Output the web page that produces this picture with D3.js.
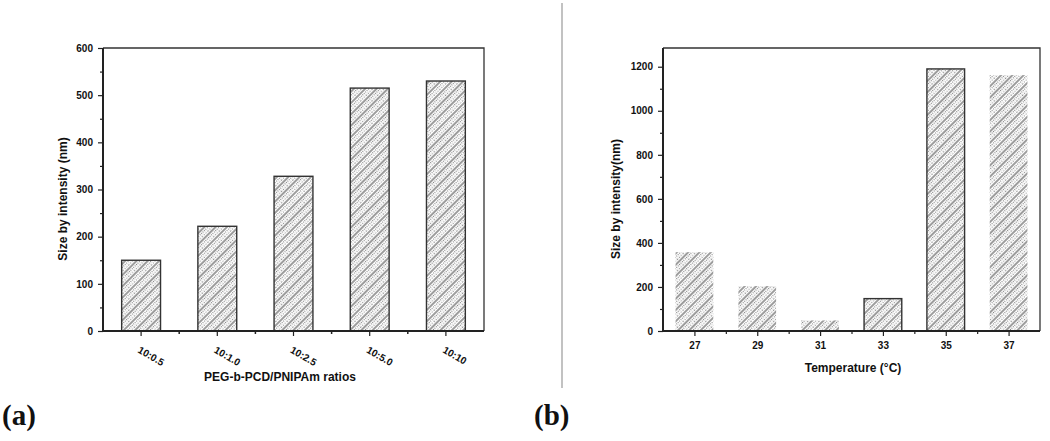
<!DOCTYPE html>
<html>
<head>
<meta charset="utf-8">
<script src="https://cdn.jsdelivr.net/npm/d3@7"></script>
<style>
  body { margin: 0; background: #fff; }
  svg { display: block; }
  .tick text { font-family: "Liberation Sans", Arial, sans-serif; font-weight: bold; font-size: 10px; fill: #111; }
  .title { font-family: "Liberation Sans", Arial, sans-serif; font-weight: bold; font-size: 12px; fill: #111; }
  .panel { font-family: "Liberation Serif", "Times New Roman", serif; font-weight: bold; font-size: 29px; fill: #111; }
</style>
</head>
<body>
<div id="chart"></div>
<script>
// panel (a): size vs. ratio
var ratioLabels = ["10:0.5", "10:1.0", "10:2.5", "10:5.0", "10:10"];
var ratioSizes = [150, 222, 328, 515, 530];
var ratioYTicks = [0, 100, 200, 300, 400, 500, 600];

// panel (b): size vs. temperature
var temps = [27, 29, 31, 33, 35, 37];
var tempSizes = [358, 204, 48, 147, 1190, 1162];
var tempYTicks = [0, 200, 400, 600, 800, 1000, 1200];

const WIDTH = 1050;
const HEIGHT = 441;

var svg = d3.select("#chart").append("svg")
    .attr("width", WIDTH)
    .attr("height", HEIGHT);

// hatch fill, solid + dotted diagonal lines
var defs = svg.append("defs");
var pat = defs.append("pattern")
    .attr("id", "hatch")
    .attr("patternUnits", "userSpaceOnUse")
    .attr("width", 8)
    .attr("height", 8)
    .attr("patternTransform", "rotate(45)");
pat.append("line")
    .attr("x1", 1).attr("y1", 0).attr("x2", 1).attr("y2", 8)
    .style("stroke", "#3a3a3a").style("stroke-width", 1);
pat.append("line")
    .attr("x1", 3.7).attr("y1", 0).attr("x2", 3.7).attr("y2", 8)
    .style("stroke", "#555").style("stroke-width", 0.9)
    .style("stroke-dasharray", "1,1");
pat.append("line")
    .attr("x1", 6.3).attr("y1", 0).attr("x2", 6.3).attr("y2", 8)
    .style("stroke", "#666").style("stroke-width", 0.9)
    .style("stroke-dasharray", "1,1.5");

function styleAxis(g) {
    g.select(".domain").remove();
    g.selectAll(".tick line").style("stroke", "#222").style("stroke-width", 1.2);
}

function drawFrame(x0, x1, y0, y1) {
    // top and right borders thin, left and bottom axis lines heavy
    svg.append("path")
        .attr("d", "M" + x0 + "," + y1 + "H" + x1 + "V" + y0)
        .style("fill", "none").style("stroke", "#333").style("stroke-width", 1.3);
    svg.append("path")
        .attr("d", "M" + x0 + "," + y1 + "V" + y0 + "H" + x1)
        .style("fill", "none").style("stroke", "#222").style("stroke-width", 2);
}

// ---------- panel (a)
var ax = d3.scaleBand().domain(ratioLabels).range([103, 484])
    .paddingInner(0.49).paddingOuter(0.245);
var ay = d3.scaleLinear().domain([0, 600]).range([331, 48]);

svg.append("g").selectAll("rect")
    .data(ratioSizes)
    .join("rect")
    .attr("x", function(d, i) { return ax(ratioLabels[i]); })
    .attr("y", function(d) { return ay(d); })
    .attr("width", ax.bandwidth())
    .attr("height", function(d) { return ay(0) - ay(d); })
    .style("fill", "url(#hatch)")
    .style("stroke", "#333")
    .style("stroke-width", 1.4);

// minor y ticks
svg.append("g")
    .attr("transform", "translate(103,0)")
    .call(d3.axisLeft(ay).tickValues(d3.range(50, 600, 100)).tickSize(3).tickFormat(""))
    .call(styleAxis);
svg.append("g")
    .attr("transform", "translate(103,0)")
    .call(d3.axisLeft(ay).tickValues(ratioYTicks).tickSize(5).tickPadding(5).tickFormat(d3.format("d")))
    .call(styleAxis);

// minor x ticks between bands
var minorA = ratioLabels.slice(0, -1).map(function(c) {
    return ax(c) + ax.bandwidth() / 2 + ax.step() / 2;
});
svg.append("g").selectAll("line")
    .data(minorA)
    .join("line")
    .attr("x1", function(d) { return d; })
    .attr("x2", function(d) { return d; })
    .attr("y1", 331).attr("y2", 334)
    .style("stroke", "#222").style("stroke-width", 1.5);

var axA = svg.append("g")
    .attr("transform", "translate(0,331)")
    .call(d3.axisBottom(ax).tickSize(5))
    .call(styleAxis);
axA.selectAll(".tick text")
    .attr("y", 0).attr("dy", 0)
    .attr("text-anchor", "start")
    .attr("transform", "translate(-4,21) rotate(30)");

drawFrame(103, 484, 331, 48);

svg.append("text").attr("class", "title")
    .attr("x", 280).attr("y", 381)
    .attr("text-anchor", "middle")
    .text("PEG-b-PCD/PNIPAm ratios");
svg.append("text").attr("class", "title")
    .attr("transform", "translate(67,199) rotate(-90)")
    .attr("text-anchor", "middle")
    .text("Size by intensity (nm)");

// ---------- panel (b)
var bx = d3.scaleLinear().domain([26, 38]).range([663, 1040]);
var by = d3.scaleLinear().domain([0, 1285]).range([331, 48]);
var barW = bx(27.6) - bx(26.4);
var outlined = [33, 35];

svg.append("g").selectAll("rect")
    .data(tempSizes)
    .join("rect")
    .attr("x", function(d, i) { return bx(temps[i]) - barW / 2; })
    .attr("y", function(d) { return by(d); })
    .attr("width", barW)
    .attr("height", function(d) { return by(0) - by(d); })
    .style("fill", "url(#hatch)")
    .style("stroke", function(d, i) { return outlined.indexOf(temps[i]) >= 0 ? "#333" : "none"; })
    .style("stroke-width", 1.4);

svg.append("g")
    .attr("transform", "translate(663,0)")
    .call(d3.axisLeft(by).tickValues(d3.range(100, 1285, 200)).tickSize(3).tickFormat(""))
    .call(styleAxis);
svg.append("g")
    .attr("transform", "translate(663,0)")
    .call(d3.axisLeft(by).tickValues(tempYTicks).tickSize(5).tickPadding(5).tickFormat(d3.format("d")))
    .call(styleAxis);

svg.append("g")
    .attr("transform", "translate(0,331)")
    .call(d3.axisBottom(bx).tickValues(d3.range(28, 38, 2)).tickSize(3).tickFormat(""))
    .call(styleAxis);
svg.append("g")
    .attr("transform", "translate(0,331)")
    .call(d3.axisBottom(bx).tickValues(temps).tickSize(5).tickPadding(6).tickFormat(d3.format("d")))
    .call(styleAxis);

drawFrame(663, 1040, 331, 48);

svg.append("text").attr("class", "title")
    .attr("x", 853).attr("y", 372)
    .attr("text-anchor", "middle")
    .text("Temperature (\u00B0C)");
svg.append("text").attr("class", "title")
    .attr("transform", "translate(620,199) rotate(-90)")
    .attr("text-anchor", "middle")
    .text("Size by intensity(nm)");

// divider and panel letters
svg.append("line")
    .attr("x1", 562).attr("x2", 562).attr("y1", 3).attr("y2", 388)
    .style("stroke", "#999").style("stroke-width", 1.2);
svg.append("text").attr("class", "panel").attr("x", 2).attr("y", 425).text("(a)");
svg.append("text").attr("class", "panel").attr("x", 534).attr("y", 425).text("(b)");
</script>
</body>
</html>
